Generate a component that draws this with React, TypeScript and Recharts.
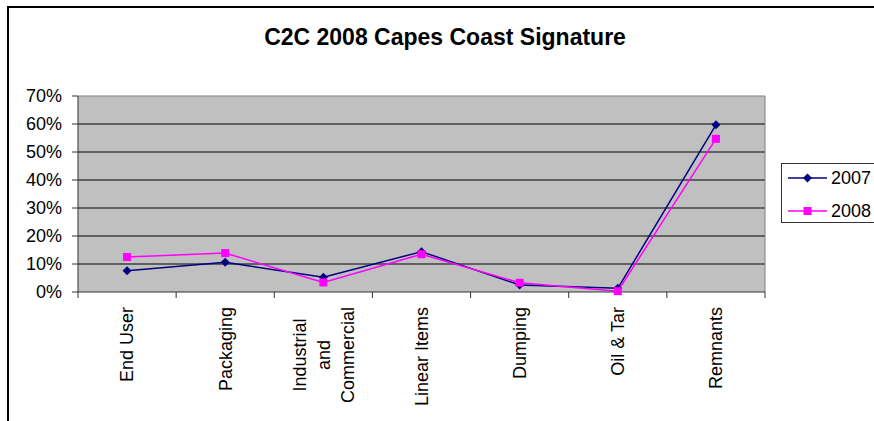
import { LineChart, Line, XAxis, YAxis, CartesianGrid, Legend } from "recharts";

const CATEGORIES = [
  "End User",
  "Packaging",
  "Industrial\nand\nCommercial",
  "Linear Items",
  "Dumping",
  "Oil & Tar",
  "Remnants",
];
const SERIES_2007 = [0.076, 0.106, 0.053, 0.144, 0.025, 0.013, 0.597];
const SERIES_2008 = [0.125, 0.139, 0.034, 0.135, 0.033, 0.003, 0.547];
const Y_TICKS = [0, 0.1, 0.2, 0.3, 0.4, 0.5, 0.6, 0.7];
const GRID_LINES = [0.1, 0.2, 0.3, 0.4, 0.5, 0.6];

const data = CATEGORIES.map((name, i) => ({
  name,
  y2007: SERIES_2007[i],
  y2008: SERIES_2008[i],
}));

const W = 874;
const H = 421;
const M_TOP = 96;
const M_RIGHT = 109;
const Y_W = 78;
const X_H = 129;
const PLOT_W = W - Y_W - M_RIGHT;
const STEP = PLOT_W / CATEGORIES.length;
const AXIS_Y = H - X_H;
const FONT = '"Liberation Sans", Arial, sans-serif';
const NAVY = "#000080";
const MAGENTA = "#FF00FF";

let ctx: CanvasRenderingContext2D | null = null;
function measure(s: string) {
  if (!ctx) {
    ctx = document.createElement("canvas").getContext("2d");
    if (ctx) ctx.font = `18px ${FONT}`;
  }
  return ctx ? ctx.measureText(s).width : s.length * 9;
}

function CategoryTick(props: any) {
  const { x, payload, index } = props;
  const lines = String(payload.value).split("\n");
  const top = AXIS_Y + 15;
  const marks = [x - STEP / 2];
  if (index === CATEGORIES.length - 1) marks.push(x + STEP / 2);

  let labels;
  if (lines.length === 1) {
    labels = (
      <text
        transform={`translate(${x},${top}) rotate(-90)`}
        textAnchor="end"
        dy="0.35em"
        fontSize={18}
        fontFamily={FONT}
        fill="#000"
      >
        {lines[0]}
      </text>
    );
  } else {
    const longest = Math.max(...lines.map(measure));
    const cy = top + longest / 2;
    labels = lines.map((l, i) => (
      <text
        key={i}
        transform={`translate(${x + (i - (lines.length - 1) / 2) * 24},${cy}) rotate(-90)`}
        textAnchor="middle"
        dy="0.35em"
        fontSize={18}
        fontFamily={FONT}
        fill="#000"
      >
        {l}
      </text>
    ));
  }

  return (
    <g>
      {marks.map((mx, i) => (
        <line key={i} x1={mx} x2={mx} y1={AXIS_Y} y2={AXIS_Y + 6} stroke="#333" />
      ))}
      {labels}
    </g>
  );
}

function Diamond(props: any) {
  const { cx, cy, key } = props;
  const r = 4.5;
  return (
    <path
      key={key}
      d={`M${cx},${cy - r}L${cx + r},${cy}L${cx},${cy + r}L${cx - r},${cy}Z`}
      fill={NAVY}
    />
  );
}

function Square(props: any) {
  const { cx, cy, key } = props;
  return <rect key={key} x={cx - 4} y={cy - 4} width={8} height={8} fill={MAGENTA} />;
}

function LegendBox({ payload }: any) {
  const items = payload || [];
  return (
    <svg width={100} height={60} style={{ display: "block" }}>
      <rect x={0.5} y={0.5} width={110} height={59} fill="#fff" stroke="#333" />
      {items.map((it: any, i: number) => {
        const cy = 15 + i * 33;
        const mx = 26.5;
        return (
          <g key={it.value}>
            <line x1={7} x2={46} y1={cy} y2={cy} stroke={it.color} strokeWidth={1.5} />
            {i === 0 ? (
              <path d={`M${mx},${cy - 4.5}L${mx + 4.5},${cy}L${mx},${cy + 4.5}L${mx - 4.5},${cy}Z`} fill={it.color} />
            ) : (
              <rect x={mx - 4} y={cy - 4} width={8} height={8} fill={it.color} />
            )}
            <text x={50} y={cy} dy="0.35em" fontSize={18} fontFamily={FONT} fill="#000">
              {it.value}
            </text>
          </g>
        );
      })}
    </svg>
  );
}

export default function App() {
  return (
    <div
      style={{
        position: "absolute",
        left: 0,
        top: 0,
        width: W,
        height: H,
        overflow: "hidden",
        background: "#fff",
      }}
    >
      <div
        style={{
          position: "absolute",
          left: 7,
          top: 6,
          width: 900,
          height: 440,
          borderTop: "2px solid #000",
          borderLeft: "2px solid #000",
        }}
      />
      <div
        style={{
          position: "absolute",
          left: 0,
          top: 26,
          width: 890,
          textAlign: "center",
          fontFamily: FONT,
          fontWeight: 700,
          fontSize: 23,
          lineHeight: "23px",
          color: "#000",
        }}
      >
        C2C 2008 Capes Coast Signature
      </div>
      <div style={{ position: "absolute", left: 0, top: 0 }}>
        <LineChart
          width={W}
          height={H}
          data={data}
          margin={{ top: M_TOP, right: M_RIGHT, bottom: 0, left: 0 }}
        >
          <CartesianGrid
            fill="#C0C0C0"
            fillOpacity={1}
            vertical={false}
            horizontalValues={GRID_LINES}
            stroke="#000"
            strokeWidth={1}
          />
          <CartesianGrid
            fill="none"
            horizontalValues={[0.7]}
            verticalCoordinatesGenerator={({ offset }: any) => [offset.left + offset.width]}
            stroke="#808080"
          />
          <XAxis
            dataKey="name"
            interval={0}
            height={X_H}
            padding={{ left: STEP / 2, right: STEP / 2 }}
            axisLine={{ stroke: "#333" }}
            tickLine={false}
            tick={<CategoryTick />}
          />
          <YAxis
            width={Y_W}
            domain={[0, 0.7]}
            ticks={Y_TICKS}
            interval={0}
            tickFormatter={(v: number) => `${Math.round(v * 100)}%`}
            tickSize={6}
            tickMargin={10}
            axisLine={{ stroke: "#333" }}
            tickLine={{ stroke: "#333" }}
            tick={{ fontSize: 18, fontFamily: FONT, fill: "#000" }}
          />
          <Legend
            layout="horizontal"
            verticalAlign="middle"
            align="center"
            wrapperStyle={{ left: 781, top: 163, width: 100, height: 60 }}
            content={<LegendBox />}
          />
          <Line
            name="2007"
            dataKey="y2007"
            stroke={NAVY}
            strokeWidth={1.5}
            dot={Diamond}
            activeDot={false}
            isAnimationActive={false}
          />
          <Line
            name="2008"
            dataKey="y2008"
            stroke={MAGENTA}
            strokeWidth={1.5}
            dot={Square}
            activeDot={false}
            isAnimationActive={false}
          />
        </LineChart>
      </div>
    </div>
  );
}
